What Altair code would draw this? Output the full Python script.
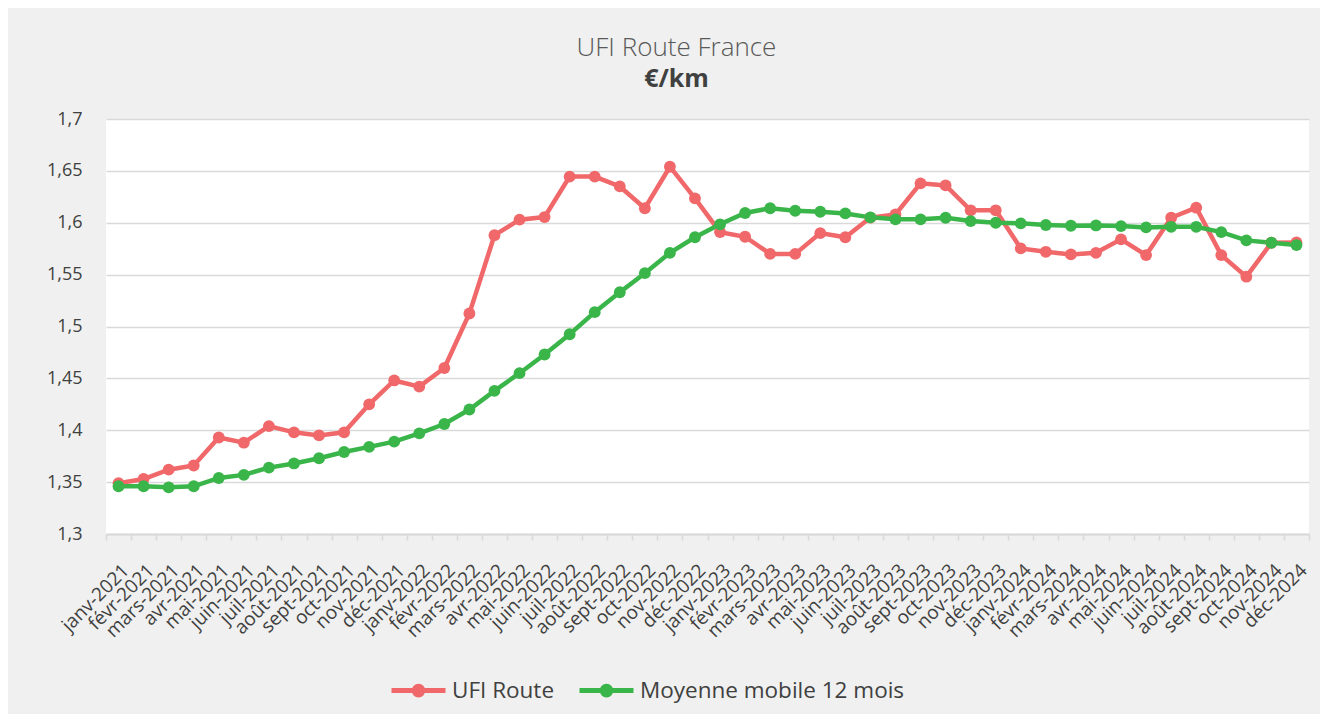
import altair as alt
import pandas as pd

month_names = ["janv", "févr", "mars", "avr", "mai", "juin",
               "juil", "août", "sept", "oct", "nov", "déc"]
years = ["2021", "2022", "2023", "2024"]
months = [f"{m}-{y}" for y in years for m in month_names]

ufi_route = [1.349, 1.353, 1.362, 1.366, 1.393, 1.388, 1.404, 1.398, 1.395, 1.398, 1.425, 1.448,
             1.442, 1.460, 1.5125, 1.588, 1.603, 1.6055, 1.6445, 1.6445, 1.635, 1.614, 1.654, 1.6235,
             1.591, 1.5865, 1.570, 1.570, 1.590, 1.586, 1.605, 1.608, 1.638, 1.636, 1.612, 1.612,
             1.5753, 1.572, 1.5695, 1.571, 1.584, 1.5688, 1.6048, 1.6145, 1.5688, 1.548, 1.5807, 1.581]

moyenne_12 = [1.346, 1.346, 1.345, 1.346, 1.354, 1.357, 1.364, 1.368, 1.373, 1.379, 1.384, 1.389,
              1.397, 1.406, 1.420, 1.438, 1.455, 1.473, 1.4925, 1.5138, 1.533, 1.5514, 1.571, 1.586,
              1.5985, 1.6094, 1.614, 1.6116, 1.6106, 1.609, 1.6052, 1.6033, 1.6033, 1.6048, 1.6016, 1.600,
              1.5994, 1.5978, 1.5971, 1.5974, 1.5968, 1.5955, 1.5961, 1.5961, 1.591, 1.583, 1.5807, 1.5785]

series_names = ["UFI Route", "Moyenne mobile 12 mois"]
series_colors = ["#F0686A", "#3AB54A"]
y_ticks = [1.3, 1.35, 1.4, 1.45, 1.5, 1.55, 1.6, 1.65, 1.7]

df = pd.concat([
    pd.DataFrame({"mois": months, "valeur": ufi_route, "serie": series_names[0], "ordre": 0}),
    pd.DataFrame({"mois": months, "valeur": moyenne_12, "serie": series_names[1], "ordre": 1}),
], ignore_index=True)

FONT = "Open Sans"
legend_symbol = ("M-1,0L1,0"
                 "M0.16,0A0.16,0.16 0 1,1 -0.16,0A0.16,0.16 0 1,1 0.16,0"
                 "M0.07,0A0.07,0.07 0 1,1 -0.07,0A0.07,0.07 0 1,1 0.07,0")

x_enc = alt.X("mois:N", sort=months, bandPosition=0.5,
              scale=alt.Scale(type="band", paddingInner=0, paddingOuter=0),
              axis=alt.Axis(title=None, labelAngle=-45, labelAlign="right", labelBaseline="middle",
                            labelOffset=7, labelPadding=27, tickBand="extent", tickSize=6,
                            tickColor="#D9D9D9", tickWidth=1.5, domainColor="#D9D9D9", domainWidth=2,
                            grid=False, labelFontSize=19, labelOverlap=False))
y_enc = alt.Y("valeur:Q",
              scale=alt.Scale(domain=[1.3, 1.7], nice=False, zero=False),
              axis=alt.Axis(title=None, values=y_ticks, domain=False, ticks=False,
                            labelPadding=24, gridColor="#D9D9D9", gridWidth=1.5,
                            labelExpr="replace(format(datum.value, '~g'), '.', ',')"))
color_enc = alt.Color("serie:N",
                      scale=alt.Scale(domain=series_names, range=series_colors),
                      legend=alt.Legend(title=None, orient="none", direction="horizontal",
                                        legendX=283, legendY=542, symbolType=legend_symbol,
                                        symbolSize=2916, symbolStrokeWidth=5, labelOffset=4,
                                        columnPadding=14, labelFontSize=22.5, labelColor="#404040",
                                        labelFont=FONT, padding=0, labelLimit=400))

chart = alt.Chart(df).mark_line(
    strokeWidth=4.5,
    point=alt.OverlayMarkDef(filled=True, size=140, opacity=1),
).encode(
    x=x_enc, y=y_enc, color=color_enc, order="ordre:Q"
).properties(
    width=1203, height=415,
    padding={"left": 98, "top": 111, "right": 11, "bottom": 180},
    autosize=alt.AutoSizeParams(type="none"),
    background="#EFF0EF",
    title=alt.TitleParams(text="UFI Route France", subtitle="€/km", frame="group",
                          anchor="middle", dx=-31, offset=18,
                          font=FONT, fontSize=26, fontWeight=300, color="#595959",
                          subtitleFont=FONT, subtitleFontSize=25, subtitleFontWeight="bold",
                          subtitleColor="#404040", subtitlePadding=6),
).configure_view(
    fill="white", stroke=None
).configure_axis(
    labelFont=FONT, labelFontSize=18, labelColor="#404040"
)

chart.save("out.html", embed_options={"renderer": "svg", "actions": False})
